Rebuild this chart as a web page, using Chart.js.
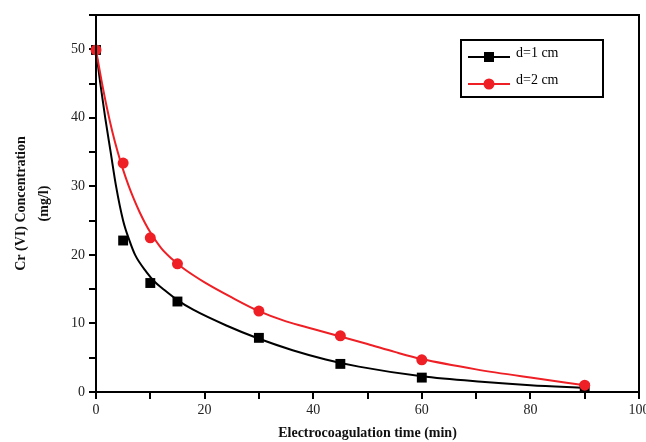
<!DOCTYPE html>
<html>
<head>
<meta charset="utf-8">
<script src="https://cdn.jsdelivr.net/npm/chart.js@4.4.1/dist/chart.umd.min.js"></script>
<style>
  body { margin: 0; background: #fff; }
  #wrap { width: 646px; height: 442px; }
</style>
</head>
<body>
<div id="wrap"><canvas id="myChart" width="646" height="442"></canvas></div>
<script>
// measured points
var times = [0, 5, 10, 15, 30, 45, 60, 90];
var conc1 = [49.9, 22.1, 15.9, 13.2, 7.9, 4.1, 2.1, 0.6];   // d=1 cm
var conc2 = [49.9, 33.4, 22.5, 18.7, 11.8, 8.2, 4.7, 1.0];  // d=2 cm

// fitted curves
var fitX1 = [0, 0.8, 1.7, 2.7, 3.7, 5, 6.2, 7.2, 9.3, 10.9, 12.4, 15, 17.9, 24, 29.9, 36.2, 42.3, 48.4, 60, 71, 80, 90];
var fitY1 = [49.9, 45, 40, 35, 30, 25, 22, 20, 17.5, 16, 15, 13.4, 12.0, 9.7, 7.8, 6.1, 4.75, 3.7, 2.3, 1.5, 1.0, 0.6];
var fitX2 = [0, 1, 2, 3, 4, 5, 6, 7, 8, 9, 10, 12, 14, 16, 18, 20, 25, 30, 35, 40, 45, 50, 55, 60, 70, 80, 90];
var fitY2 = [49.9, 45.5, 41.5, 38, 35, 32.4, 30.1, 28.1, 26.3, 24.7, 23.3, 21.0, 19.4, 18.1, 17.0, 16.0, 13.8, 11.8, 10.3, 9.2, 8.1, 7.0, 5.85, 4.8, 3.3, 2.1, 1.0];

var labels = ["d=1 cm", "d=2 cm"];
var colors = ["#000000", "#ee1f25"];

function pts(xs, ys) {
    return xs.map(function (x, i) { return { x: x, y: ys[i] }; });
}

// full frame round the plot area
var framePlugin = {
    id: 'frame',
    afterDraw: function (chart) {
        var a = chart.chartArea, c = chart.ctx;
        c.save();
        c.strokeStyle = '#000';
        c.lineWidth = 2;
        c.strokeRect(a.left, a.top, a.right - a.left, a.bottom - a.top);
        c.restore();
    }
};

// legend with line + marker, like the original
var legendPlugin = {
    id: 'boxLegend',
    afterDraw: function (chart) {
        var c = chart.ctx;
        c.save();
        c.strokeStyle = '#000';
        c.lineWidth = 2;
        c.strokeRect(461, 40, 142, 57);
        c.font = '14px "Liberation Serif", serif';
        c.textBaseline = 'middle';
        for (var i = 0; i < labels.length; i++) {
            var y = 57 + i * 27;
            c.strokeStyle = colors[i];
            c.fillStyle = colors[i];
            c.beginPath();
            c.moveTo(468, y);
            c.lineTo(510, y);
            c.stroke();
            c.beginPath();
            if (i === 0) {
                c.rect(484, y - 5, 10, 10);
            } else {
                c.arc(489, y, 5.5, 0, Math.PI * 2);
            }
            c.fill();
            c.fillStyle = '#000';
            c.fillText(labels[i], 516, y - 4);
        }
        c.restore();
    }
};

var ctx = document.getElementById("myChart").getContext('2d');
var myChart = new Chart(ctx, {
    type: 'scatter',
    data: {
        datasets: [{
            label: labels[0] + ' fit',
            data: pts(fitX1, fitY1),
            showLine: true,
            borderColor: colors[0],
            borderWidth: 2,
            pointRadius: 0,
            cubicInterpolationMode: 'monotone',
            order: 3
        }, {
            label: labels[1] + ' fit',
            data: pts(fitX2, fitY2),
            showLine: true,
            borderColor: colors[1],
            borderWidth: 2,
            pointRadius: 0,
            cubicInterpolationMode: 'monotone',
            order: 2
        }, {
            label: labels[0],
            data: pts(times, conc1),
            pointStyle: 'rect',
            pointRadius: 7,
            backgroundColor: colors[0],
            borderWidth: 0,
            clip: false,
            order: 1
        }, {
            label: labels[1],
            data: pts(times, conc2),
            pointStyle: 'circle',
            pointRadius: 5.5,
            backgroundColor: colors[1],
            borderWidth: 0,
            clip: false,
            order: 0
        }]
    },
    options: {
        responsive: false,
        animation: false,
        layout: { padding: { top: 15, right: 6, left: 0, bottom: 0 } },
        plugins: {
            legend: { display: false },
            tooltip: { enabled: false }
        },
        scales: {
            x: {
                type: 'linear',
                min: 0,
                max: 100,
                afterFit: function (s) { s.height = 50; s.paddingLeft = 0; s.paddingRight = 0; },
                border: { color: '#000', width: 2 },
                grid: { drawOnChartArea: false, color: '#000', lineWidth: 2, tickLength: 7 },
                ticks: {
                    stepSize: 10,
                    maxRotation: 0,
                    padding: 3,
                    color: '#222',
                    font: { family: '"Liberation Serif", serif', size: 14 },
                    callback: function (v) { return v % 20 === 0 ? v : ''; }
                },
                title: {
                    display: true,
                    text: 'Electrocoagulation time (min)',
                    color: '#111',
                    padding: { top: 0, bottom: 0 },
                    font: { family: '"Liberation Serif", serif', size: 14, weight: 'bold' }
                }
            },
            y: {
                min: 0,
                max: 55,
                afterFit: function (s) { s.width = 96; },
                border: { color: '#000', width: 2 },
                grid: { drawOnChartArea: false, color: '#000', lineWidth: 2, tickLength: 7 },
                ticks: {
                    stepSize: 5,
                    padding: 4,
                    color: '#222',
                    font: { family: '"Liberation Serif", serif', size: 14 },
                    callback: function (v) { return v % 10 === 0 ? v : ''; }
                },
                title: {
                    display: true,
                    text: ['Cr (VI) Concentration', '(mg/l)'],
                    color: '#111',
                    padding: { top: 10, bottom: 0 },
                    font: { family: '"Liberation Serif", serif', size: 14, weight: 'bold', lineHeight: 1.65 }
                }
            }
        }
    },
    plugins: [framePlugin, legendPlugin]
});
</script>
</body>
</html>
